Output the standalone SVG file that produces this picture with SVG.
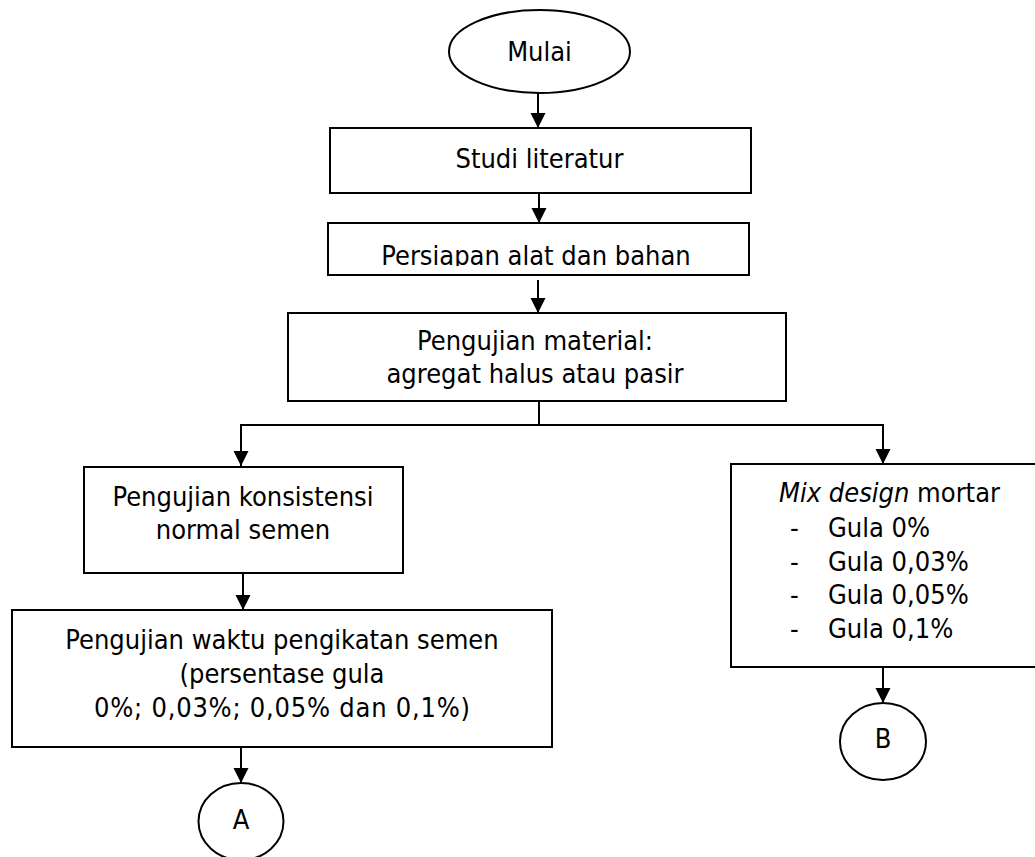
<svg xmlns="http://www.w3.org/2000/svg" width="1035" height="857" viewBox="0 0 1035 857">
<style>
.s{fill:#fff;stroke:#000;stroke-width:2}
.t{font-family:"DejaVu Sans Condensed","DejaVu Sans",Verdana,sans-serif;font-stretch:condensed;font-size:27px;fill:#000}
.m{text-anchor:middle}
.c{fill:none;stroke:#000;stroke-width:2}
</style>
<defs>
<marker id="ah" markerUnits="userSpaceOnUse" markerWidth="16" markerHeight="16" refX="15" refY="7.5" orient="auto">
<path d="M0,0 L15,7.5 L0,15 Z" fill="#000"/>
</marker>
<clipPath id="clipP"><rect x="328" y="223" width="421" height="43"/></clipPath>
</defs>
<rect width="1035" height="857" fill="#fff"/>
<g id="connectors">
<line class="c" x1="538" y1="93" x2="538" y2="128" marker-end="url(#ah)"/>
<line class="c" x1="539" y1="193" x2="539" y2="223" marker-end="url(#ah)"/>
<line class="c" x1="538" y1="280" x2="538" y2="313" marker-end="url(#ah)"/>
<polyline class="c" points="539,401 539,425"/>
<polyline class="c" points="241,425 883,425"/>
<line class="c" x1="241" y1="424" x2="241" y2="466" marker-end="url(#ah)"/>
<line class="c" x1="883" y1="424" x2="883" y2="464" marker-end="url(#ah)"/>
<line class="c" x1="243" y1="573" x2="243" y2="610" marker-end="url(#ah)"/>
<line class="c" x1="241" y1="747" x2="241" y2="783" marker-end="url(#ah)"/>
<line class="c" x1="883" y1="667" x2="883" y2="703" marker-end="url(#ah)"/>
</g>
<g id="mulai">
<ellipse class="s" cx="539.5" cy="51.5" rx="90.5" ry="41.5"/>
<text class="t m" x="539.5" y="61">Mulai</text>
</g>
<g id="studi">
<rect class="s" x="330" y="128" width="421" height="65"/>
<text class="t m" x="539.5" y="168">Studi literatur</text>
</g>
<g id="persiapan">
<rect class="s" x="328" y="223" width="421" height="52"/>
<text class="t m" x="536" y="265" clip-path="url(#clipP)">Persiapan alat dan bahan</text>
</g>
<g id="material">
<rect class="s" x="288" y="313" width="498" height="88"/>
<text class="t m" x="535" y="350">Pengujian material:</text>
<text class="t m" x="535" y="383">agregat halus atau pasir</text>
</g>
<g id="konsistensi">
<rect class="s" x="84" y="467" width="319" height="106"/>
<text class="t m" x="243" y="506">Pengujian konsistensi</text>
<text class="t m" x="243" y="539">normal semen</text>
</g>
<g id="waktu">
<rect class="s" x="12" y="610" width="540" height="137"/>
<text class="t m" x="282" y="649">Pengujian waktu pengikatan semen</text>
<text class="t m" x="282" y="683">(persentase gula</text>
<text class="t m" x="282" y="717" textLength="376" lengthAdjust="spacing">0%; 0,03%; 0,05% dan 0,1%)</text>
</g>
<g id="mix">
<rect class="s" x="731" y="464" width="312" height="203"/>
<text class="t" x="779" y="502"><tspan font-style="italic">Mix design</tspan> mortar</text>
<text class="t" x="790" y="537">-</text><text class="t" x="828" y="537">Gula 0%</text>
<text class="t" x="790" y="571">-</text><text class="t" x="828" y="571">Gula 0,03%</text>
<text class="t" x="790" y="604">-</text><text class="t" x="828" y="604">Gula 0,05%</text>
<text class="t" x="790" y="638">-</text><text class="t" x="828" y="638">Gula 0,1%</text>
</g>
<g id="A">
<ellipse class="s" cx="241" cy="821.5" rx="42.5" ry="38.5"/>
<text class="t m" x="241" y="829">A</text>
</g>
<g id="B">
<ellipse class="s" cx="883" cy="741.5" rx="43" ry="38.5"/>
<text class="t m" x="883" y="748">B</text>
</g>
</svg>
